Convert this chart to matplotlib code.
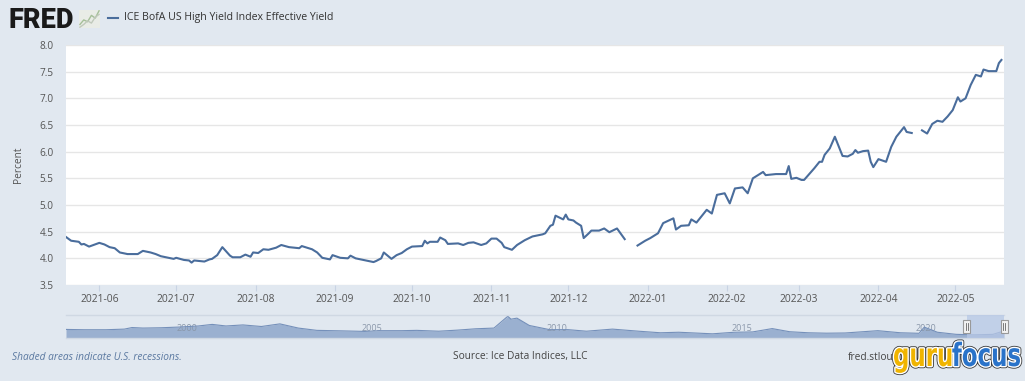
import matplotlib
matplotlib.use("Agg")
import matplotlib.pyplot as plt
import matplotlib.dates as mdates
from matplotlib.patches import Rectangle, PathPatch
from matplotlib.lines import Line2D
from matplotlib.textpath import TextPath
from matplotlib.font_manager import FontProperties
import matplotlib.transforms as mtransforms
import pandas as pd
import numpy as np

plt.rcParams['font.family'] = ['Open Sans', 'DejaVu Sans']

# ---------------- data ----------------
series_name = "ICE BofA US High Yield Index Effective Yield"

dates = [
    "2021-05-19", "2021-05-21", "2021-05-24", "2021-05-25", "2021-05-26", "2021-05-28",
    "2021-06-01", "2021-06-03", "2021-06-05", "2021-06-07", "2021-06-09", "2021-06-12",
    "2021-06-16", "2021-06-18", "2021-06-21", "2021-06-23", "2021-06-25", "2021-06-30",
    "2021-07-01", "2021-07-04", "2021-07-06", "2021-07-07", "2021-07-08", "2021-07-12",
    "2021-07-14", "2021-07-15", "2021-07-17", "2021-07-19", "2021-07-22", "2021-07-23",
    "2021-07-26", "2021-07-28", "2021-07-30", "2021-07-31", "2021-08-02", "2021-08-04",
    "2021-08-06", "2021-08-09", "2021-08-11", "2021-08-14", "2021-08-18", "2021-08-19",
    "2021-08-23", "2021-08-25", "2021-08-27", "2021-08-30", "2021-08-31", "2021-09-03",
    "2021-09-06", "2021-09-07", "2021-09-09", "2021-09-12", "2021-09-16", "2021-09-17",
    "2021-09-19", "2021-09-20", "2021-09-23", "2021-09-25", "2021-09-27", "2021-09-29",
    "2021-10-01", "2021-10-05", "2021-10-06", "2021-10-07", "2021-10-08", "2021-10-11",
    "2021-10-12", "2021-10-14", "2021-10-15", "2021-10-19", "2021-10-21", "2021-10-23",
    "2021-10-25", "2021-10-28", "2021-10-30", "2021-11-01", "2021-11-03", "2021-11-05",
    "2021-11-06", "2021-11-09", "2021-11-11", "2021-11-12", "2021-11-14", "2021-11-17",
    "2021-11-21", "2021-11-22", "2021-11-24", "2021-11-25", "2021-11-26", "2021-11-29",
    "2021-11-30", "2021-12-01", "2021-12-03", "2021-12-04", "2021-12-06", "2021-12-07",
    "2021-12-09", "2021-12-10", "2021-12-13", "2021-12-15", "2021-12-17", "2021-12-20",
    "2021-12-23", "2021-12-25",
    "2021-12-28", "2021-12-31", "2022-01-02", "2022-01-05", "2022-01-07", "2022-01-11",
    "2022-01-12", "2022-01-14", "2022-01-17", "2022-01-18", "2022-01-20", "2022-01-22",
    "2022-01-24", "2022-01-26", "2022-01-28", "2022-01-31", "2022-02-02", "2022-02-04",
    "2022-02-07", "2022-02-09", "2022-02-11", "2022-02-15", "2022-02-16", "2022-02-20",
    "2022-02-24", "2022-02-25", "2022-02-26", "2022-02-28", "2022-03-02", "2022-03-03",
    "2022-03-05", "2022-03-07", "2022-03-09", "2022-03-10", "2022-03-11", "2022-03-13",
    "2022-03-15", "2022-03-18", "2022-03-20", "2022-03-22", "2022-03-23", "2022-03-24",
    "2022-03-26", "2022-03-28", "2022-03-29", "2022-03-30", "2022-04-01", "2022-04-04",
    "2022-04-06", "2022-04-08", "2022-04-11", "2022-04-12", "2022-04-14", "2022-04-16",
    "2022-04-18", "2022-04-20", "2022-04-22", "2022-04-24", "2022-04-26", "2022-04-28",
    "2022-04-30", "2022-05-02", "2022-05-03", "2022-05-05", "2022-05-07", "2022-05-09",
    "2022-05-11", "2022-05-12", "2022-05-14", "2022-05-17", "2022-05-18", "2022-05-19",
]
values = [
    4.40, 4.33, 4.31, 4.26, 4.27, 4.22,
    4.29, 4.26, 4.21, 4.19, 4.11, 4.08,
    4.08, 4.14, 4.11, 4.08, 4.04, 3.99,
    4.01, 3.97, 3.96, 3.92, 3.96, 3.94,
    3.98, 3.99, 4.06, 4.21, 4.05, 4.02,
    4.02, 4.07, 4.03, 4.11, 4.10, 4.17,
    4.16, 4.20, 4.25, 4.21, 4.19, 4.23,
    4.17, 4.11, 4.01, 3.98, 4.06, 4.01,
    4.00, 4.05, 4.00, 3.97, 3.93, 3.95,
    4.00, 4.11, 3.99, 4.06, 4.10, 4.17,
    4.22, 4.23, 4.33, 4.28, 4.31, 4.31,
    4.39, 4.34, 4.27, 4.28, 4.25, 4.29,
    4.30, 4.25, 4.28, 4.37, 4.37, 4.29,
    4.21, 4.16, 4.25, 4.28, 4.34, 4.41,
    4.45, 4.47, 4.61, 4.63, 4.80, 4.73,
    4.82, 4.73, 4.71, 4.67, 4.61, 4.38,
    4.47, 4.52, 4.52, 4.56, 4.49, 4.56,
    4.36, None,
    4.24, 4.33, 4.38, 4.47, 4.66, 4.75,
    4.54, 4.61, 4.62, 4.73, 4.67, 4.79,
    4.91, 4.84, 5.19, 5.22, 5.03, 5.31,
    5.33, 5.22, 5.50, 5.62, 5.56, 5.58,
    5.58, 5.73, 5.49, 5.51, 5.47, 5.47,
    5.58, 5.69, 5.81, 5.81, 5.94, 6.06,
    6.28, 5.92, 5.91, 5.96, 6.03, 5.98,
    6.01, 6.02, 5.81, 5.71, 5.86, 5.81,
    6.09, 6.28, 6.46, 6.37, 6.35, None,
    6.40, 6.34, 6.52, 6.58, 6.56, 6.66,
    6.78, 7.02, 6.94, 7.00, 7.25, 7.44,
    7.41, 7.54, 7.51, 7.51, 7.66, 7.72,
]

y_ticks = [3.5, 4.0, 4.5, 5.0, 5.5, 6.0, 6.5, 7.0, 7.5, 8.0]
x_tick_labels = ["2021-06", "2021-07", "2021-08", "2021-09", "2021-10", "2021-11",
                 "2021-12", "2022-01", "2022-02", "2022-03", "2022-04", "2022-05"]

# navigator (full history)
nav_dates = [
    "1996-12-31", "1997-06-30", "1998-01-31", "1998-07-31", "1998-10-15", "1999-01-31",
    "1999-07-31", "2000-01-31", "2000-07-31", "2000-12-15", "2001-04-30", "2001-10-15",
    "2002-04-15", "2002-10-15", "2003-04-15", "2003-10-15", "2004-06-30", "2005-01-31",
    "2005-06-30", "2006-01-31", "2006-06-30", "2007-01-31", "2007-07-31", "2008-01-31",
    "2008-07-31", "2008-12-15", "2009-01-15", "2009-03-15", "2009-07-15", "2010-01-31",
    "2010-07-31", "2011-01-31", "2011-10-15", "2012-06-30", "2013-01-31", "2013-07-31",
    "2014-06-30", "2015-01-31", "2015-07-31", "2016-02-10", "2016-07-31", "2017-01-31",
    "2017-07-31", "2018-01-31", "2018-12-20", "2019-07-31", "2020-01-31", "2020-03-23",
    "2020-07-31", "2021-01-31", "2021-07-31", "2022-01-31", "2022-05-19",
]
nav_values = [
    9.2, 8.9, 8.9, 9.5, 11.0, 10.5,
    10.8, 11.5, 12.5, 14.0, 12.5, 13.5,
    12.0, 14.5, 10.5, 8.3, 7.8, 7.3,
    8.0, 8.0, 8.3, 7.5, 8.5, 9.8,
    10.5, 21.8, 19.0, 20.0, 13.0, 9.0,
    9.0, 7.5, 9.5, 7.5, 6.0, 6.5,
    5.0, 6.5, 6.8, 10.0, 7.0, 6.0,
    5.6, 5.8, 8.0, 6.0, 5.5, 11.4,
    6.5, 4.5, 4.0, 4.5, 7.7,
]
nav_year_labels = ["2000", "2005", "2010", "2015", "2020"]

# FRED logo icon
icon_a = [1.0, 2.0, 1.6, 3.0, 2.4, 4.0]
icon_b = [0.4, 1.0, 1.8, 1.3, 2.6, 3.2]

footer_left = "Shaded areas indicate U.S. recessions."
footer_mid = "Source: Ice Data Indices, LLC"
footer_right = "fred.stlou"
logo_parts = ["guru", "focus"]
logo_colors = ["#f0b400", "#2a73c9"]

# ---------------- style ----------------
W, H = 1025, 381
BG = "#e1e8f0"
LINE = "#4a6d9c"
TXT = "#555555"

fig = plt.figure(figsize=(W / 100, H / 100), dpi=100, facecolor=BG)


def px_axes(x0, y0, x1, y1):
    return fig.add_axes([x0 / W, 1 - y1 / H, (x1 - x0) / W, (y1 - y0) / H])


# ---------------- main chart ----------------
ax = px_axes(66, 45, 1004, 285)
ax.set_facecolor("white")
d = pd.to_datetime(dates)
v = np.array([np.nan if x is None else x for x in values], dtype=float)
ax.plot(d, v, color=LINE, lw=1.5, solid_joinstyle="round")
ax.set_ylim(3.5, 8.0)
ax.set_xlim(pd.Timestamp("2021-05-19"), pd.Timestamp("2022-05-20"))
ax.set_yticks(y_ticks)
ax.set_yticklabels([f"{t:.1f}" for t in y_ticks])
ax.yaxis.grid(True, color="#e6e6e6", lw=1)
ax.set_axisbelow(True)
for s in ax.spines.values():
    s.set_visible(False)
ax.tick_params(axis="y", length=0, pad=9, labelsize=7.2, labelcolor=TXT)
ax.set_xticks(pd.to_datetime([t + "-01" for t in x_tick_labels]))
ax.set_xticklabels(x_tick_labels)
ax.tick_params(axis="x", length=4.5, width=0.8, color="#c8d3e3", labelsize=7.4,
               labelcolor=TXT, pad=2)

fig.text(18 / W, 1 - 165 / H, "Percent", rotation=90, ha="center", va="center",
         fontsize=7.3, color=TXT)

# ---------------- navigator ----------------
nav = px_axes(66, 315, 1004, 338)
nav.set_facecolor(BG)
nd = pd.to_datetime(nav_dates)
nav.fill_between(nd, nav_values, 0, color="#9ab0d0", lw=0)
nav.plot(nd, nav_values, color="#7590ba", lw=0.8)
nav.set_ylim(1, 23)
x0n, x1n = pd.Timestamp("1996-12-31"), pd.Timestamp("2022-05-20")
nav.set_xlim(x0n, x1n)
for name, s in nav.spines.items():
    if name in ("top", "bottom"):
        s.set_color("#cfd8e3")
        s.set_linewidth(1)
    else:
        s.set_visible(False)
nav.set_yticks([])
nav.set_xticks(pd.to_datetime([y + "-01-01" for y in nav_year_labels]))
nav.set_xticklabels(nav_year_labels)
nav.tick_params(axis="x", length=0, pad=-10, labelsize=6.5, labelcolor="#8a97aa")
for lab in nav.get_xticklabels():
    lab.set_ha("left")

sel0, sel1 = mdates.date2num(pd.Timestamp("2021-05-19")), mdates.date2num(pd.Timestamp("2022-05-20"))
btrans = mtransforms.blended_transform_factory(nav.transData, nav.transAxes)
nav.add_patch(Rectangle((sel0, 0), sel1 - sel0, 1, transform=btrans,
                        facecolor="#b7c8e6", alpha=0.75, lw=0, zorder=3))
days_per_px = (mdates.date2num(x1n) - mdates.date2num(x0n)) / (1004 - 66)
hw = 7 * days_per_px
for xc in (sel0, sel1):
    nav.add_patch(Rectangle((xc - hw / 2, 0.2), hw, 0.6, transform=btrans,
                            facecolor="#f2f2f2", edgecolor="#999999", lw=0.8,
                            zorder=5, clip_on=False))
    for off in (-0.15, 0.15):
        nav.add_line(Line2D([xc + hw * off, xc + hw * off], [0.35, 0.65], transform=btrans,
                            color="#666", lw=0.6, zorder=6, clip_on=False))

# ---------------- overlay: header, footer, logos ----------------
ov = fig.add_axes([0, 0, 1, 1], facecolor="none")
ov.set_xlim(0, W)
ov.set_ylim(H, 0)
ov.axis("off")

ov.text(8, 28, "FRED", fontsize=19.5, fontweight="heavy", family=["Roboto", "DejaVu Sans"],
        color="#1a1a1a", ha="left", va="baseline")

icon = px_axes(79, 10, 100, 28)
icon.set_facecolor("#e9ece6")
icon.plot(range(len(icon_a)), icon_a, color="#a5bf98", lw=1)
icon.plot(range(len(icon_b)), icon_b, color="#c0c9bb", lw=1)
icon.set_xticks([])
icon.set_yticks([])
for s in icon.spines.values():
    s.set_visible(False)

ov.add_line(Line2D([108, 118], [17.5, 17.5], color=LINE, lw=1.5))
ov.text(124, 17.5, series_name, fontsize=7.6, color="#333333", ha="left", va="center")

ov.text(12, 357, footer_left, fontsize=7.3, style="italic", color="#5a78a0",
        ha="left", va="center")
ov.text(520, 357, footer_mid, fontsize=7.3, color="#444444", ha="center", va="center")
ov.text(848, 357, footer_right, fontsize=7.3, color="#444444", ha="left", va="center")

# gurufocus logo: condensed bold lettering fitted to its box
fp = FontProperties(family="DejaVu Sans", weight="bold")
paths = [TextPath((0, 0), s, size=1, prop=fp) for s in logo_parts]
widths = [p.get_extents().x1 for p in paths]
total_w = sum(widths) + 0.02
logo_x0, logo_x1, base_y, size_px = 893, 1020, 366, 32
sx = (logo_x1 - logo_x0) / total_w
xoff = logo_x0
for p, wdt, col in zip(paths, widths, logo_colors):
    tr = mtransforms.Affine2D().scale(sx, -size_px).translate(xoff, base_y)
    tp = tr.transform_path(p)
    ov.add_patch(PathPatch(tp, facecolor="none", edgecolor="#3a3a3a", lw=3.2,
                           joinstyle="round", zorder=10))
    ov.add_patch(PathPatch(tp, facecolor="none", edgecolor="white", lw=2.0,
                           joinstyle="round", zorder=11))
    ov.add_patch(PathPatch(tp, facecolor=col, edgecolor="none", zorder=12))
    xoff += wdt * sx + 0.02 * sx

fig.savefig("out.png", dpi=100, facecolor=BG)
